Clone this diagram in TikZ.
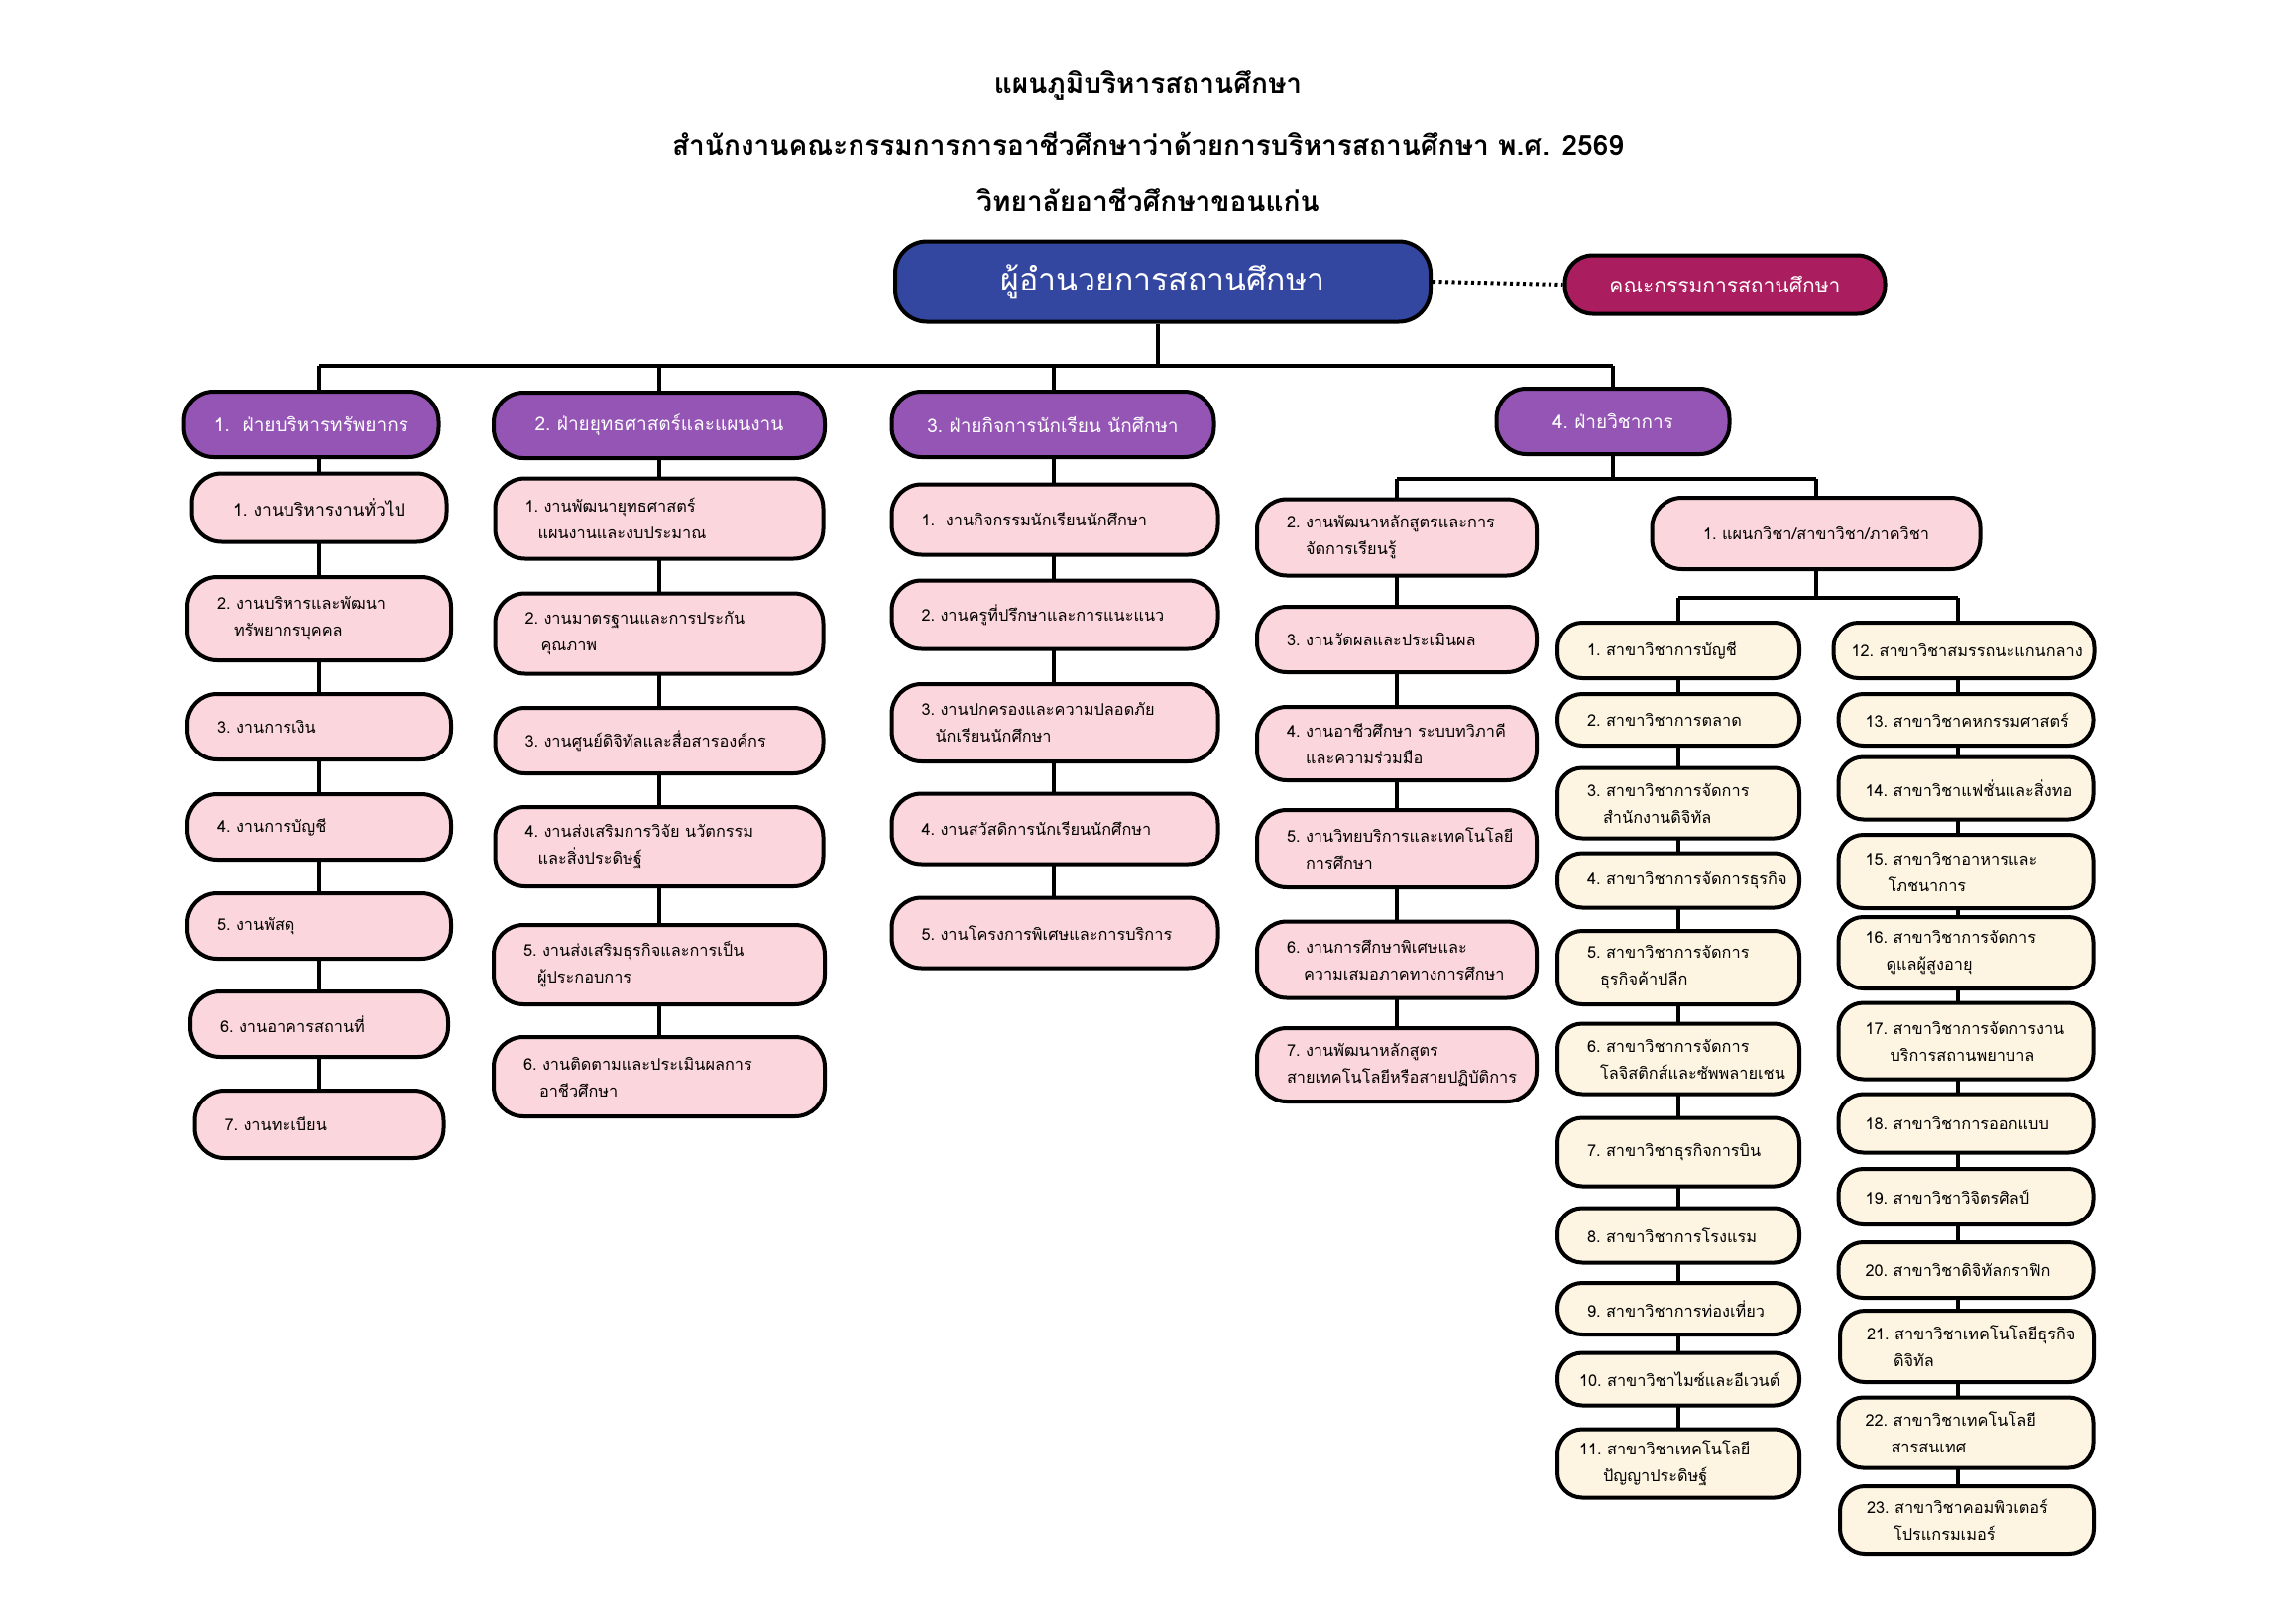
\documentclass[tikz,border=0pt]{standalone}
\usepackage{fontspec}
\setmainfont[Script=Thai]{Loma}
\pgfdeclarelayer{bglayer}
\pgfdeclarelayer{linelayer}
\pgfsetlayers{bglayer,linelayer,main}
\definecolor{pinkbox}{HTML}{FBD6DC}
\definecolor{creambox}{HTML}{FDF5E2}
\definecolor{purplebox}{HTML}{9455B5}
\definecolor{bluebox}{HTML}{3447A0}
\definecolor{redbox}{HTML}{AA1D5E}
\newcommand\bx[7]{\node[#1,text width=#5pt,minimum height=#6pt] (#2) at (#3,#4) {#7};}
\newcommand\cb[7]{\node[#1,minimum width=#5pt,minimum height=#6pt] (#2) at (#3,#4) {#7};}
\begin{document}
\begin{tikzpicture}[x=1pt,y=-1pt,
  basebox/.style={draw=black,line width=4pt,inner xsep=30pt,inner ysep=0pt,anchor=center},
  pk/.style={basebox,fill=pinkbox,rounded corners=30pt,align=left,font=\fontsize{16.3}{27}\selectfont},
  cr/.style={basebox,fill=creambox,rounded corners=25pt,align=left,font=\fontsize{16.3}{27}\selectfont},
  dv/.style={basebox,fill=purplebox,rounded corners=30pt,align=center,text=white,font=\fontsize{19}{24}\selectfont},
  conn/.style={line width=3.5pt,draw=black},
  ttl/.style={font=\bfseries\fontsize{28}{34}\selectfont,anchor=center}]
\begin{pgfonlayer}{bglayer}
\fill[white] (0,0) rectangle (2316,1638);
\end{pgfonlayer}
\useasboundingbox (0,0) rectangle (2316,1638);

% titles
\node[ttl] (t1) at (1158,86) {แผนภูมิบริหารสถานศึกษา};
\node[ttl] (t2) at (1158,145) {สำนักงานคณะกรรมการการอาชีวศึกษาว่าด้วยการบริหารสถานศึกษา พ.ศ. 2569};
\node[ttl] (t3) at (1158,202) {วิทยาลัยอาชีวศึกษาขอนแก่น};

% top
\node[basebox,fill=bluebox,rounded corners=32pt,text=white,font=\fontsize{32}{36}\selectfont,minimum width=540pt,minimum height=81pt] (main) at (1173,284) {ผู้อำนวยการสถานศึกษา};
\node[basebox,fill=redbox,rounded corners=28pt,text=white,font=\fontsize{21}{25}\selectfont,minimum width=323pt,minimum height=59pt] (comm) at (1740,287) {คณะกรรมการสถานศึกษา};

% divisions
\cb{dv}{d1}{314}{428}{257}{66}{1.~~ฝ่ายบริหารทรัพยากร}
\cb{dv}{d2}{665}{429}{334}{66}{2.~ฝ่ายยุทธศาสตร์และแผนงาน}
\cb{dv}{d3}{1062}{428}{325}{66}{3.~ฝ่ายกิจการนักเรียน~นักศึกษา}
\cb{dv}{d4}{1627}{425}{235}{66}{4.~ฝ่ายวิชาการ}

% column 1
\cb{pk,align=center,font=\fontsize{17.5}{27}\selectfont}{c1a}{322}{512}{257}{69}{1.~งานบริหารงานทั่วไป}
\bx{pk}{c1b}{322}{624}{206}{84}{2.~งานบริหารและพัฒนา\\\hspace*{17pt}ทรัพยากรบุคคล}
\bx{pk}{c1c}{322}{733}{206}{66}{3.~งานการเงิน}
\bx{pk}{c1d}{322}{834}{206}{66}{4.~งานการบัญชี}
\bx{pk}{c1e}{322}{934}{206}{66}{5.~งานพัสดุ}
\bx{pk}{c1f}{322}{1033}{200}{66}{6.~งานอาคารสถานที่}
\bx{pk}{c1g}{322}{1134}{191}{68}{7.~งานทะเบียน}

% column 2
\bx{pk}{c2a}{665}{523}{271}{81}{1.~งานพัฒนายุทธศาสตร์\\\hspace*{13pt}แผนงานและงบประมาณ}
\bx{pk}{c2b}{665}{639}{271}{81}{2.~งานมาตรฐานและการประกัน\\\hspace*{16pt}คุณภาพ}
\bx{pk}{c2c}{665}{747}{271}{66}{3.~งานศูนย์ดิจิทัลและสื่อสารองค์กร}
\bx{pk}{c2d}{665}{854}{271}{80}{4.~งานส่งเสริมการวิจัย~นวัตกรรม\\\hspace*{13pt}และสิ่งประดิษฐ์}
\bx{pk}{c2e}{665}{973}{274}{80}{5.~งานส่งเสริมธุรกิจและการเป็น\\\hspace*{14pt}ผู้ประกอบการ}
\bx{pk}{c2f}{665}{1086}{274}{80}{6.~งานติดตามและประเมินผลการ\\\hspace*{16pt}อาชีวศึกษา}

% column 3
\bx{pk}{c3a}{1064}{524}{269}{71}{1.~~งานกิจกรรมนักเรียนนักศึกษา}
\bx{pk}{c3b}{1064}{620}{269}{69}{2.~งานครูที่ปรึกษาและการแนะแนว}
\bx{pk}{c3c}{1064}{729}{269}{78}{3.~งานปกครองและความปลอดภัย\\\hspace*{14pt}นักเรียนนักศึกษา}
\bx{pk}{c3d}{1064}{836}{269}{71}{4.~งานสวัสดิการนักเรียนนักศึกษา}
\bx{pk}{c3e}{1064}{941}{269}{71}{5.~งานโครงการพิเศษและการบริการ}

% column 4 left
\bx{pk}{c4a}{1409}{542}{222}{77}{2.~งานพัฒนาหลักสูตรและการ\\\hspace*{19pt}จัดการเรียนรู้}
\bx{pk}{c4b}{1409}{645}{222}{66}{3.~งานวัดผลและประเมินผล}
\bx{pk}{c4c}{1409}{750}{222}{74}{4.~งานอาชีวศึกษา~ระบบทวิภาคี\\\hspace*{19pt}และความร่วมมือ}
\bx{pk}{c4d}{1409}{856}{222}{78}{5.~งานวิทยบริการและเทคโนโลยี\\\hspace*{19pt}การศึกษา}
\bx{pk}{c4e}{1409}{968}{222}{77}{6.~งานการศึกษาพิเศษและ\\\hspace*{17pt}ความเสมอภาคทางการศึกษา}
\bx{pk}{c4f}{1409}{1074}{222}{74}{7.~งานพัฒนาหลักสูตร\\สายเทคโนโลยีหรือสายปฏิบัติการ}

% department
\cb{pk,align=center}{dept}{1832}{538}{331}{72}{1.~แผนกวิชา/สาขาวิชา/ภาควิชา}

% sub-left
\bx{cr}{s1}{1693}{656}{184}{56}{1.~สาขาวิชาการบัญชี}
\bx{cr}{s2}{1693}{726}{184}{52}{2.~สาขาวิชาการตลาด}
\bx{cr}{s3}{1693}{810}{184}{71}{3.~สาขาวิชาการจัดการ\\\hspace*{16pt}สำนักงานดิจิทัล}
\bx{cr}{s4}{1693}{888}{184}{55}{4.~สาขาวิชาการจัดการธุรกิจ}
\bx{cr}{s5}{1693}{976}{184}{74}{5.~สาขาวิชาการจัดการ\\\hspace*{13pt}ธุรกิจค้าปลีก}
\bx{cr}{s6}{1693}{1068}{184}{71}{6.~สาขาวิชาการจัดการ\\\hspace*{13pt}โลจิสติกส์และซัพพลายเชน}
\bx{cr}{s7}{1693}{1162}{184}{69}{7.~สาขาวิชาธุรกิจการบิน}
\bx{cr}{s8}{1693}{1246}{184}{55}{8.~สาขาวิชาการโรงแรม}
\bx{cr}{s9}{1693}{1320}{184}{52}{9.~สาขาวิชาการท่องเที่ยว}
\bx{cr,inner xsep=22pt}{s10}{1693}{1391}{200}{53}{10.~สาขาวิชาไมซ์และอีเวนต์}
\bx{cr,inner xsep=22pt}{s11}{1693}{1476}{200}{69}{11.~สาขาวิชาเทคโนโลยี\\\hspace*{24pt}ปัญญาประดิษฐ์}

% sub-right
\bx{cr,inner xsep=18pt}{s12}{1981}{656}{227}{56}{12.~สาขาวิชาสมรรถนะแกนกลาง}
\bx{cr,inner xsep=27pt}{s13}{1983}{726}{203}{52}{13.~สาขาวิชาคหกรรมศาสตร์}
\bx{cr,inner xsep=27pt}{s14}{1983}{795}{203}{63}{14.~สาขาวิชาแฟชั่นและสิ่งทอ}
\bx{cr,inner xsep=27pt}{s15}{1983}{879}{203}{74}{15.~สาขาวิชาอาหารและ\\\hspace*{23pt}โภชนาการ}
\bx{cr,inner xsep=27pt}{s16}{1983}{961}{203}{72}{16.~สาขาวิชาการจัดการ\\\hspace*{21pt}ดูแลผู้สูงอายุ}
\bx{cr,inner xsep=27pt}{s17}{1983}{1050}{203}{77}{17.~สาขาวิชาการจัดการงาน\\\hspace*{25pt}บริการสถานพยาบาล}
\bx{cr,inner xsep=27pt}{s18}{1983}{1133}{203}{59}{18.~สาขาวิชาการออกแบบ}
\bx{cr,inner xsep=27pt}{s19}{1983}{1207}{203}{56}{19.~สาขาวิชาวิจิตรศิลป์}
\bx{cr,inner xsep=27pt}{s20}{1983}{1281}{203}{56}{20.~สาขาวิชาดิจิทัลกราฟิก}
\bx{cr,inner xsep=27pt}{s21}{1984}{1358}{202}{72}{21.~สาขาวิชาเทคโนโลยีธุรกิจ\\\hspace*{27pt}ดิจิทัล}
\bx{cr,inner xsep=27pt}{s22}{1983}{1445}{203}{71}{22.~สาขาวิชาเทคโนโลยี\\\hspace*{26pt}สารสนเทศ}
\bx{cr,inner xsep=27pt}{s23}{1984}{1533}{202}{68}{23.~สาขาวิชาคอมพิวเตอร์\\\hspace*{27pt}โปรแกรมเมอร์}

% bus coordinates
\coordinate (b0) at (1168,369);
\coordinate (k1) at (322,369);
\coordinate (k2) at (665,369);
\coordinate (k3) at (1063,369);
\coordinate (k4) at (1627,369);
\coordinate (b4L) at (1409,483);
\coordinate (b4R) at (1832,483);
\coordinate (b5L) at (1693,603);
\coordinate (b5R) at (1975,603);

\begin{pgfonlayer}{linelayer}
\draw[conn] (k1) -- (k4);
\draw[conn] (b0 |- main.south) -- (b0);
\draw[conn] (k1) -- (k1 |- c1g.north);
\draw[conn] (k2) -- (k2 |- c2f.north);
\draw[conn] (k3) -- (k3 |- c3e.north);
\draw[conn] (k4) -- (d4.north);
\draw[conn] (d4.south) -- (d4.south |- b4L);
\draw[conn] (b4L) -- (b4R);
\draw[conn] (b4L) -- (b4L |- c4f.north);
\draw[conn] (b4R) -- (dept.north);
\draw[conn] (dept.south) -- (dept.south |- b5L);
\draw[conn] (b5L) -- (b5R);
\draw[conn] (b5L) -- (b5L |- s11.north);
\draw[conn] (b5R) -- (b5R |- s23.north);
\end{pgfonlayer}
\draw[line width=4pt,dash pattern=on 3pt off 3.5pt] (main.east) -- (comm.west);
\end{tikzpicture}
\end{document}
